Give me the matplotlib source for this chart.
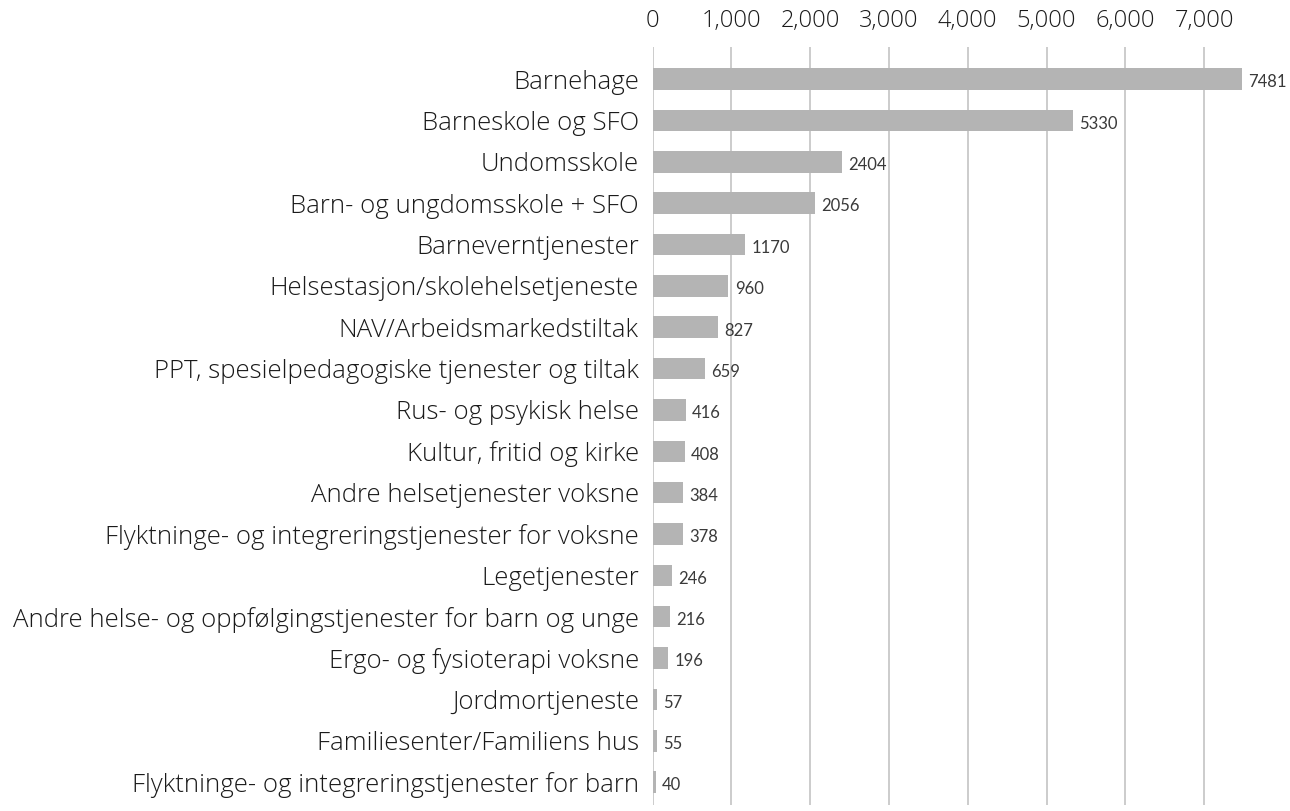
import matplotlib
matplotlib.use("Agg")
import matplotlib.pyplot as plt
from matplotlib.ticker import FuncFormatter

categories = [
    "Barnehage",
    "Barneskole og SFO",
    "Undomsskole",
    "Barn- og ungdomsskole + SFO",
    "Barneverntjenester",
    "Helsestasjon/skolehelsetjeneste",
    "NAV/Arbeidsmarkedstiltak",
    "PPT, spesielpedagogiske tjenester og tiltak",
    "Rus- og psykisk helse",
    "Kultur, fritid og kirke",
    "Andre helsetjenester voksne",
    "Flyktninge- og integreringstjenester for voksne",
    "Legetjenester",
    "Andre helse- og oppfølgingstjenester for barn og unge",
    "Ergo- og fysioterapi voksne",
    "Jordmortjeneste",
    "Familiesenter/Familiens hus",
    "Flyktninge- og integreringstjenester for barn",
]
values = [7481, 5330, 2404, 2056, 1170, 960, 827, 659, 416, 408, 384, 378, 246, 216, 196, 57, 55, 40]
xticks = [0, 1000, 2000, 3000, 4000, 5000, 6000, 7000]

fig = plt.figure(figsize=(12.9, 8.11), dpi=100)
ax = fig.add_axes([0.506, 0.007, 0.464, 0.935])

ypos = list(range(len(categories)))
ax.barh(ypos, values, height=0.52, color="#b4b4b4", zorder=3)
ax.set_ylim(17.56, -0.774)
ax.set_xlim(0, 7600)
ax.set_xticks(xticks)
ax.xaxis.set_major_formatter(FuncFormatter(lambda v, p: f"{int(v):,}"))
ax.xaxis.tick_top()
ax.tick_params(axis="x", length=0, pad=10, labelsize=17, labelcolor="#1a1a1a")
ax.tick_params(axis="y", length=0, pad=10, labelsize=18.5, labelcolor="#1a1a1a")
ax.set_yticks(ypos)
ax.set_yticklabels(categories)
for lab in ax.get_xticklabels() + ax.get_yticklabels():
    lab.set_fontfamily("Open Sans")
    lab.set_fontweight("light")
ax.grid(axis="x", color="#c8c8c8", linewidth=1.3, zorder=0)
ax.grid(axis="y", visible=False)
for s in ax.spines.values():
    s.set_visible(False)

for y, v in zip(ypos, values):
    ax.text(v + 80, y + 0.08, str(v), va="center", ha="left", fontsize=12,
            color="#3a3a3a", fontfamily="Lato", fontweight="normal")

fig.savefig("out.png", dpi=100)
